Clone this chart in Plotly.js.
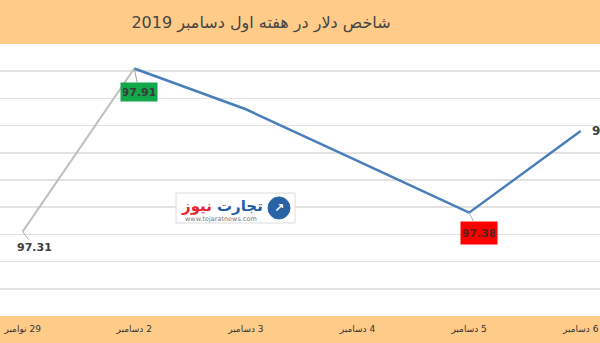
<!DOCTYPE html>
<html>
<head>
<meta charset="utf-8">
<script src="https://cdn.plot.ly/plotly-3.0.1.min.js"></script>
<style>html,body{margin:0;padding:0;background:#fff;}#chart{width:600px;height:343px;}</style>
</head>
<body>
<div id="chart"></div>
<script>
// ---- data ----
var categories = ['29 نوامبر', '2 دسامبر', '3 دسامبر', '4 دسامبر', '5 دسامبر', '6 دسامبر'];
var values = [97.31, 97.91, 97.76, 97.57, 97.38, 97.68];
var titleText = 'شاخص دلار در هفته اول دسامبر 2019';
var fmt = function (v) { return v.toFixed(2); };

var orange = '#fecb89';
var arFont = 'DejaVu Sans, Noto Sans, sans-serif';

var traces = [
  {
    x: categories.slice(0, 2), y: values.slice(0, 2),
    type: 'scatter', mode: 'lines',
    line: { color: '#bfbfbf', width: 2 },
    hoverinfo: 'skip'
  },
  {
    x: categories.slice(1), y: values.slice(1),
    type: 'scatter', mode: 'lines',
    line: { color: '#4a7ebb', width: 2.5 },
    hoverinfo: 'skip'
  }
];

var annotations = [
  { x: categories[0], y: values[0], text: fmt(values[0]), showarrow: true, arrowhead: 0,
    arrowcolor: '#b0b0b0', arrowwidth: 1, ax: 12, ay: 16, standoff: 0,
    font: { family: arFont, size: 11, color: '#404040', weight: 700 } },
  { x: categories[1], y: values[1], text: fmt(values[1]), showarrow: true, arrowhead: 0,
    arrowcolor: '#a0a0a0', arrowwidth: 1, ax: 5, ay: 24, standoff: 0,
    bgcolor: '#13a84b', borderpad: 2, width: 32, height: 14,
    font: { family: arFont, size: 11, color: '#3a3a3a', weight: 700 } },
  { x: categories[4], y: values[4], text: fmt(values[4]), showarrow: true, arrowhead: 0,
    arrowcolor: '#b0b0b0', arrowwidth: 1, ax: 10, ay: 20, standoff: 0,
    bgcolor: '#ff0000', borderpad: 2, width: 32, height: 18,
    font: { family: arFont, size: 11, color: '#5a2020', weight: 700 } },
  { x: categories[5], y: values[5], text: fmt(values[5]), showarrow: false,
    xanchor: 'left', yanchor: 'middle', xshift: 9,
    font: { family: arFont, size: 12, color: '#404040', weight: 700 } },
  // watermark logo text
  { xref: 'paper', yref: 'paper', x: 222 / 600, y: (316 - 206) / 272, xanchor: 'center', yanchor: 'middle',
    showarrow: false,
    text: '<span style="color:#1f5da6">تجارت</span> <span style="color:#e3262f">نیوز</span>',
    font: { family: arFont, size: 15, color: '#1f5da6', weight: 700 } },
  { xref: 'paper', yref: 'paper', x: 221 / 600, y: (316 - 219) / 272, xanchor: 'center', yanchor: 'middle',
    showarrow: false, text: 'www.tejaratnews.com',
    font: { family: arFont, size: 6.5, color: '#777' } },
  { xref: 'paper', yref: 'paper', x: 279 / 600, y: (316 - 208) / 272, xanchor: 'center', yanchor: 'middle',
    showarrow: false, text: '↗',
    font: { family: arFont, size: 12, color: '#ffffff', weight: 700 } }
];

var shapes = [
  { type: 'rect', xref: 'paper', yref: 'paper', layer: 'above',
    x0: 176 / 600, x1: 295 / 600, y0: (316 - 223) / 272, y1: (316 - 193) / 272,
    fillcolor: '#ffffff', line: { color: '#dcdcdc', width: 1 } },
  { type: 'circle', xref: 'paper', yref: 'paper', layer: 'above',
    x0: 268 / 600, x1: 290 / 600, y0: (316 - 219) / 272, y1: (316 - 197) / 272,
    fillcolor: '#2a62a6', line: { color: '#2a62a6', width: 1 } }
];

var layout = {
  width: 600, height: 343,
  margin: { l: 0, r: 0, t: 44, b: 27, pad: 0 },
  paper_bgcolor: orange,
  plot_bgcolor: '#ffffff',
  showlegend: false,
  title: {
    text: titleText,
    x: 261 / 600, xanchor: 'center', xref: 'container',
    y: 1 - 22 / 343, yanchor: 'middle', yref: 'container',
    font: { family: arFont, size: 16, color: '#444444' }
  },
  xaxis: {
    type: 'category',
    categoryarray: categories, categoryorder: 'array',
    range: [-0.203, 5.173],
    showgrid: false, zeroline: false, showline: false,
    ticks: '',
    tickvals: categories,
    ticktext: categories.map(function (c) { return '\u200F' + c; }),
    tickfont: { family: arFont, size: 9, color: '#333333' },
    ticklabelstandoff: 6,
    fixedrange: true
  },
  yaxis: {
    range: [97.0, 98.0],
    dtick: 0.1, tick0: 97.0,
    showticklabels: false, ticks: '',
    showgrid: true, gridcolor: '#e2e2e2', gridwidth: 1.5,
    zeroline: false, showline: false,
    fixedrange: true
  },
  annotations: annotations,
  shapes: shapes
};

Plotly.newPlot('chart', traces, layout, { staticPlot: true, displayModeBar: false });
</script>
</body>
</html>
